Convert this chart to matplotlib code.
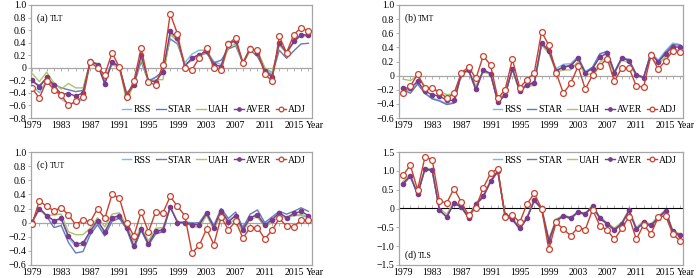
import matplotlib
matplotlib.use('Agg')
import matplotlib.pyplot as plt
from matplotlib.ticker import FuncFormatter

plt.rcParams['font.family'] = ['Liberation Serif', 'DejaVu Serif']
plt.rcParams['axes.unicode_minus'] = True

years = list(range(1979, 2018))
series_names = ['RSS', 'STAR', 'UAH', 'AVER', 'ADJ']

# ---- (a) TLT ----
tlt_rss = [-0.28, -0.40, -0.20, -0.30, -0.50, -0.57, -0.57, -0.50, 0.12, 0.05, -0.20, 0.10, 0.03, -0.45, -0.25, 0.15, -0.20, -0.15, -0.10, 0.55, 0.45, 0.08, 0.22, 0.28, 0.28, 0.10, 0.05, 0.38, 0.42, 0.10, 0.30, 0.26, 0.00, -0.10, 0.38, 0.22, 0.42, 0.52, 0.50]
tlt_star = [-0.22, -0.28, -0.17, -0.26, -0.32, -0.35, -0.38, -0.36, 0.10, 0.05, -0.22, 0.08, 0.01, -0.40, -0.28, 0.10, -0.22, -0.15, -0.05, 0.46, 0.38, 0.05, 0.12, 0.20, 0.23, 0.08, 0.12, 0.30, 0.35, 0.08, 0.28, 0.18, -0.04, -0.12, 0.28, 0.15, 0.27, 0.38, 0.39]
tlt_uah = [-0.09, -0.22, -0.07, -0.24, -0.34, -0.25, -0.32, -0.32, 0.09, 0.07, -0.18, 0.05, 0.00, -0.53, -0.27, 0.14, -0.22, -0.19, -0.19, 0.53, 0.42, 0.05, 0.13, 0.19, 0.25, 0.03, -0.03, 0.33, 0.38, 0.07, 0.27, 0.28, 0.00, -0.07, 0.36, 0.24, 0.40, 0.52, 0.50]
tlt_aver = [-0.19, -0.31, -0.15, -0.28, -0.42, -0.41, -0.45, -0.40, 0.11, 0.05, -0.26, 0.09, 0.02, -0.44, -0.27, 0.20, -0.21, -0.22, -0.06, 0.58, 0.47, 0.02, 0.16, 0.21, 0.26, 0.05, 0.02, 0.39, 0.43, 0.07, 0.32, 0.24, -0.05, -0.15, 0.40, 0.24, 0.42, 0.53, 0.52]
tlt_adj = [-0.33, -0.48, -0.21, -0.35, -0.43, -0.60, -0.53, -0.47, 0.09, 0.00, -0.11, 0.24, 0.01, -0.46, -0.21, 0.31, -0.22, -0.28, 0.05, 0.86, 0.54, 0.00, -0.03, 0.16, 0.32, -0.01, -0.03, 0.38, 0.48, 0.07, 0.30, 0.28, -0.10, -0.21, 0.50, 0.24, 0.53, 0.64, 0.58]

# ---- (b) TMT ----
tmt_rss = [-0.20, -0.22, -0.10, -0.25, -0.32, -0.35, -0.40, -0.38, 0.03, 0.08, -0.20, 0.08, 0.03, -0.38, -0.28, 0.10, -0.23, -0.12, -0.10, 0.46, 0.37, 0.10, 0.16, 0.17, 0.27, 0.06, 0.12, 0.30, 0.35, 0.05, 0.26, 0.23, 0.02, -0.02, 0.33, 0.22, 0.35, 0.46, 0.44]
tmt_star = [-0.20, -0.25, -0.12, -0.25, -0.33, -0.36, -0.41, -0.39, 0.02, 0.07, -0.21, 0.07, 0.02, -0.38, -0.28, 0.09, -0.22, -0.12, -0.10, 0.44, 0.34, 0.07, 0.12, 0.15, 0.25, 0.04, 0.12, 0.31, 0.34, 0.05, 0.25, 0.22, 0.01, -0.02, 0.32, 0.20, 0.33, 0.44, 0.43]
tmt_uah = [-0.05, -0.07, 0.00, -0.15, -0.20, -0.22, -0.27, -0.26, 0.04, 0.06, -0.14, 0.05, 0.02, -0.35, -0.24, 0.08, -0.22, -0.15, -0.14, 0.43, 0.32, 0.05, 0.08, 0.08, 0.20, 0.00, 0.04, 0.19, 0.26, 0.03, 0.22, 0.18, -0.01, -0.03, 0.26, 0.15, 0.27, 0.37, 0.36]
tmt_aver = [-0.17, -0.18, -0.08, -0.22, -0.27, -0.29, -0.35, -0.35, 0.03, 0.08, -0.19, 0.08, 0.03, -0.37, -0.27, 0.10, -0.22, -0.13, -0.11, 0.46, 0.35, 0.07, 0.12, 0.14, 0.25, 0.04, 0.10, 0.26, 0.32, 0.04, 0.25, 0.21, 0.01, -0.03, 0.31, 0.19, 0.31, 0.41, 0.40]
tmt_adj = [-0.24, -0.15, 0.02, -0.18, -0.18, -0.23, -0.32, -0.25, 0.04, 0.12, -0.04, 0.28, 0.15, -0.32, -0.20, 0.23, -0.17, -0.06, 0.04, 0.62, 0.43, 0.04, -0.25, -0.11, 0.13, -0.19, 0.01, 0.14, 0.24, -0.08, 0.11, 0.11, -0.15, -0.16, 0.29, 0.09, 0.21, 0.35, 0.34]

# ---- (c) TUT ----
tut_rss = [0.01, 0.20, 0.10, 0.02, 0.05, -0.22, -0.33, -0.32, -0.14, 0.00, -0.16, 0.05, 0.08, -0.09, -0.35, -0.10, -0.31, -0.14, -0.11, 0.22, 0.01, 0.01, 0.00, -0.02, 0.13, -0.06, 0.17, 0.03, 0.10, -0.08, 0.07, 0.12, -0.02, 0.05, 0.13, 0.08, 0.10, 0.10, 0.07]
tut_star = [0.01, 0.19, 0.09, -0.07, -0.04, -0.28, -0.43, -0.41, -0.17, -0.03, -0.19, 0.02, 0.06, -0.09, -0.37, -0.11, -0.32, -0.16, -0.13, 0.22, 0.01, 0.00, -0.01, 0.00, 0.15, -0.04, 0.20, 0.06, 0.15, -0.07, 0.12, 0.18, 0.00, 0.08, 0.16, 0.12, 0.16, 0.21, 0.16]
tut_uah = [0.01, 0.20, 0.10, 0.11, 0.12, -0.13, -0.17, -0.17, -0.08, 0.07, -0.06, 0.12, 0.14, -0.04, -0.27, -0.06, -0.26, -0.08, -0.07, 0.22, 0.02, 0.00, -0.05, -0.07, 0.10, -0.10, 0.12, -0.02, 0.05, -0.13, 0.05, 0.08, -0.06, 0.00, 0.10, 0.06, 0.10, 0.12, 0.08]
tut_aver = [0.01, 0.20, 0.10, 0.03, 0.06, -0.19, -0.30, -0.29, -0.12, 0.03, -0.13, 0.07, 0.10, -0.07, -0.33, -0.09, -0.30, -0.12, -0.10, 0.22, 0.00, 0.00, -0.03, -0.03, 0.13, -0.07, 0.17, 0.01, 0.10, -0.10, 0.07, 0.11, -0.04, 0.04, 0.14, 0.07, 0.13, 0.16, 0.10]
tut_adj = [-0.02, 0.31, 0.23, 0.17, 0.21, 0.11, -0.03, 0.04, 0.01, 0.20, 0.06, 0.40, 0.35, 0.00, -0.19, 0.15, -0.13, 0.15, 0.14, 0.37, 0.23, 0.10, -0.43, -0.32, -0.09, -0.31, 0.08, -0.10, 0.02, -0.22, -0.07, -0.07, -0.23, -0.11, 0.06, -0.05, -0.06, 0.04, 0.04]

# ---- (d) TLS ----
tls_rss = [0.62, 0.85, 0.36, 1.04, 1.00, -0.06, -0.22, 0.14, 0.04, -0.25, 0.11, 0.31, 0.71, 0.98, -0.19, -0.29, -0.54, -0.26, 0.21, 0.00, -0.86, -0.33, -0.20, -0.26, -0.10, -0.15, 0.06, -0.26, -0.41, -0.57, -0.41, -0.06, -0.55, -0.38, -0.46, -0.25, -0.07, -0.62, -0.72]
tls_star = [0.64, 0.86, 0.37, 1.04, 1.01, -0.05, -0.23, 0.13, 0.03, -0.26, 0.10, 0.30, 0.70, 0.98, -0.20, -0.30, -0.55, -0.27, 0.20, -0.01, -0.88, -0.34, -0.21, -0.27, -0.11, -0.16, 0.05, -0.27, -0.42, -0.58, -0.42, -0.07, -0.56, -0.39, -0.47, -0.26, -0.08, -0.63, -0.73]
tls_uah = [0.72, 0.90, 0.42, 1.08, 1.04, 0.00, -0.15, 0.18, 0.08, -0.20, 0.15, 0.35, 0.74, 1.00, -0.15, -0.25, -0.50, -0.22, 0.24, 0.03, -0.80, -0.28, -0.18, -0.23, -0.08, -0.12, 0.08, -0.22, -0.38, -0.52, -0.36, -0.03, -0.50, -0.33, -0.42, -0.20, -0.04, -0.57, -0.68]
tls_aver = [0.66, 0.87, 0.38, 1.05, 1.02, -0.04, -0.22, 0.15, 0.05, -0.24, 0.12, 0.32, 0.72, 0.99, -0.18, -0.28, -0.53, -0.25, 0.22, 0.01, -0.85, -0.32, -0.19, -0.25, -0.09, -0.14, 0.07, -0.25, -0.40, -0.56, -0.40, -0.05, -0.54, -0.37, -0.45, -0.24, -0.06, -0.61, -0.71]
tls_adj = [0.88, 1.15, 0.50, 1.36, 1.30, 0.20, 0.15, 0.53, 0.17, -0.18, 0.02, 0.55, 0.93, 1.06, -0.22, -0.16, -0.37, 0.12, 0.40, 0.00, -1.08, -0.37, -0.55, -0.72, -0.51, -0.56, -0.03, -0.46, -0.57, -0.82, -0.53, -0.22, -0.82, -0.43, -0.68, -0.23, -0.19, -0.68, -0.86]

xtick_years = list(range(1979, 2016, 4))
panel_labels = [('(a)', 'TLT'), ('(b)', 'TMT'), ('(c)', 'TUT'), ('(d)', 'TLS')]
y_ranges = [(-0.8, 1.0, 0.2), (-0.6, 1.0, 0.2), (-0.6, 1.0, 0.2), (-1.5, 1.5, 0.5)]

panels = [
    [tlt_rss, tlt_star, tlt_uah, tlt_aver, tlt_adj],
    [tmt_rss, tmt_star, tmt_uah, tmt_aver, tmt_adj],
    [tut_rss, tut_star, tut_uah, tut_aver, tut_adj],
    [tls_rss, tls_star, tls_uah, tls_aver, tls_adj],
]

colors = {'RSS': '#7dbbe6', 'STAR': '#6a78b8', 'UAH': '#a9c46a',
          'AVER': '#7a3b8c', 'ADJ': '#c9412e'}
frame_col = '#a6a6a6'

W, H = 700, 278
fig = plt.figure(figsize=(W / 100, H / 100), dpi=100)

# axes boxes in pixels: left, top, right, bottom
boxes = [(31, 5, 312, 118), (399, 5, 683, 118), (31, 152, 312, 265), (399, 152, 683, 265)]
xlims = [(1978.85, 2017.5), (1978.45, 2017.4), (1978.85, 2017.5), (1978.45, 2017.4)]
legend_locs = ['lower right', 'lower right', 'upper right', 'upper right']
label_pos = ['top', 'top', 'top', 'bottom']

fs = 7.0
xpad = 2.5

def yfmt(v, pos):
    if abs(v) < 1e-9:
        return '0'
    return ('%.1f' % v).replace('-', '\u2212')

for i in range(4):
    l, t, r, b = boxes[i]
    ax = fig.add_axes([l / W, 1 - b / H, (r - l) / W, (b - t) / H])
    data = panels[i]
    for name, vals in zip(series_names, data):
        if name == 'AVER':
            ax.plot(years, vals, color=colors[name], lw=1.0, marker='o', ms=3.0,
                    mfc=colors[name], mec=colors[name], label=name, zorder=4)
        elif name == 'ADJ':
            ax.plot(years, vals, color=colors[name], lw=1.0, marker='o', ms=4.2,
                    mfc='white', mec=colors[name], mew=0.9, label=name, zorder=5)
        else:
            ax.plot(years, vals, color=colors[name], lw=1.0, label=name, zorder=3)
    ymin, ymax, step = y_ranges[i]
    ax.set_ylim(ymin, ymax)
    n = int(round((ymax - ymin) / step))
    ax.set_yticks([round(ymin + k * step, 2) for k in range(n + 1)])
    ax.yaxis.set_major_formatter(FuncFormatter(yfmt))
    ax.set_xlim(*xlims[i])
    ax.set_xticks(xtick_years)
    ax.set_xticklabels([str(y) for y in xtick_years])
    ax.tick_params(axis='x', length=0, pad=xpad, labelsize=fs)
    ax.tick_params(axis='y', length=2, width=0.6, color=frame_col, pad=1.5, labelsize=fs)
    for s in ax.spines.values():
        s.set_color(frame_col)
        s.set_linewidth(0.9)
    # zero line with yearly ticks
    frac0 = (0 - ymin) / (ymax - ymin)
    sec = ax.secondary_xaxis(frac0)
    sec.set_xticks(years)
    sec.tick_params(axis='x', length=2.2, width=0.6, color=frame_col, direction='out',
                    labelbottom=False, labeltop=False)
    sec.spines['bottom'].set_color(frame_col)
    sec.spines['bottom'].set_linewidth(0.9)
    # "Year" label, aligned with the tick labels
    ax.annotate('Year', xy=(2016.6, 0), xycoords=('data', 'axes fraction'),
                xytext=(0, -xpad), textcoords='offset points',
                ha='left', va='top', fontsize=fs, annotation_clip=False)
    # panel label
    if label_pos[i] == 'top':
        t1 = ax.text(0.02, 0.86, panel_labels[i][0] + ' ', transform=ax.transAxes,
                     fontsize=fs, ha='left', va='baseline')
    else:
        t1 = ax.text(0.02, 0.06, panel_labels[i][0] + ' ', transform=ax.transAxes,
                     fontsize=fs, ha='left', va='baseline')
    ax.annotate(panel_labels[i][1], xy=(1, 0), xycoords=t1, fontsize=fs - 1.4,
                ha='left', va='bottom')
    # legend
    if legend_locs[i] == 'lower right':
        bta = (0.99, 0.0)
    else:
        bta = (0.99, 1.0)
    ax.legend(loc=legend_locs[i], bbox_to_anchor=bta, ncol=5, frameon=False,
              fontsize=fs, handlelength=1.0, handletextpad=0.2, columnspacing=0.5,
              borderaxespad=0.2, borderpad=0.2, markerscale=0.8)

fig.savefig('out.png', dpi=100)
